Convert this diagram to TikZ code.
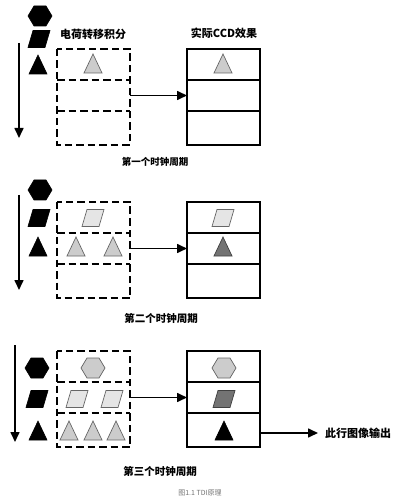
\documentclass[tikz,border=0pt]{standalone}
\usepackage{fontspec}
\setmainfont{Noto Sans CJK SC}
\usetikzlibrary{arrows.meta}
\tikzset{
  hexa/.pic={\path[pic actions] (-12,0) -- (-6,-10) -- (6,-10) -- (12,0) -- (6,10) -- (-6,10) -- cycle;},
  para/.pic={\path[pic actions] (-11,8.5) -- (6,8.5) -- (11,-8.5) -- (-6,-8.5) -- cycle;},
  tri/.pic={\path[pic actions] (-9,9) -- (9,9) -- (0,-10) -- cycle;},
  blk/.style={fill=black,draw=black,line width=0.6pt},
  lgt/.style={fill=black!20,draw=black!60,line width=0.7pt},
  pale/.style={fill=black!10,draw=black!60,line width=0.7pt},
  drk/.style={fill=black!55,draw=black!75,line width=0.7pt},
  dbox/.style={inner sep=0pt,outer sep=0pt,minimum width=73pt,minimum height=31pt},
  dline/.style={line width=2pt,dash pattern=on 7.5pt off 4pt},
  cbox/.style={draw,line width=1.8pt,inner sep=0pt,outer sep=0pt,minimum width=73pt,minimum height=31pt},
  arr/.style={line width=1.6pt,-{Triangle[length=10pt,width=9pt]}},
  lbl/.style={font=\bfseries\fontsize{11}{13}\selectfont,inner sep=0pt},
  clk/.style={font=\bfseries\fontsize{10.5}{12}\selectfont,inner sep=0pt}
}
\begin{document}
\begin{tikzpicture}[x=1pt,y=-1pt]
  \useasboundingbox (0,0) rectangle (400,502);
  % dashed integration stages and ccd rows, three clock periods
  \foreach \p/\t in {1/49,2/202,3/351}{
    \node[dbox] (d\p1) at (93.5,\t+15.5) {};
    \node[dbox] (d\p2) at (93.5,\t+46.5) {};
    \node[dbox,minimum height=34pt] (d\p3) at (93.5,\t+79) {};
    \draw[dline] (d\p1.north west) rectangle (d\p3.south east);
    \draw[dline] (d\p1.south west) -- (d\p1.south east);
    \draw[dline] (d\p2.south west) -- (d\p2.south east);
    \node[cbox] (c\p1) at (223.5,\t+15.5) {};
    \node[cbox] (c\p2) at (223.5,\t+46.5) {};
    \node[cbox,minimum height=34pt] (c\p3) at (223.5,\t+79) {};
    \draw[arr] (d\p2.east) -- (c\p2.west);
  }
  \node[lbl] (tin) at (93,34) {电荷转移积分};
  \node[lbl] (tccd) at (224,33) {实际CCD效果};
  % first period
  \coordinate (v1a) at (19,43); \coordinate (v1b) at (19,138);
  \draw[arr] (v1a) -- (v1b);
  \pic[blk] at (40,16) {hexa};
  \pic[blk] at (39,39) {para};
  \pic[blk] at (38,65) {tri};
  \pic[lgt] at (93,64) {tri};
  \pic[lgt] at (223,64) {tri};
  \node[clk,font=\bfseries\fontsize{9.5}{11}\selectfont] (k1) at (155,162) {第一个时钟周期};
  % second period
  \coordinate (v2a) at (19,195); \coordinate (v2b) at (19,290);
  \draw[arr] (v2a) -- (v2b);
  \pic[blk] at (40,190) {hexa};
  \pic[blk] at (39,218) {para};
  \pic[blk] at (38,247) {tri};
  \pic[pale] at (93,218) {para};
  \pic[lgt] at (76,247) {tri};
  \pic[lgt] at (113,247) {tri};
  \pic[pale] at (223,218) {para};
  \pic[drk] at (223,247) {tri};
  \node[clk] (k2) at (161,318) {第二个时钟周期};
  % third period
  \coordinate (v3a) at (15,345); \coordinate (v3b) at (15,442);
  \draw[arr] (v3a) -- (v3b);
  \pic[blk] at (37,368) {hexa};
  \pic[blk] at (37,399) {para};
  \pic[blk] at (38,431) {tri};
  \pic[lgt] at (93,368) {hexa};
  \pic[pale] at (77,399) {para};
  \pic[pale] at (112,399) {para};
  \pic[lgt] at (69,431) {tri};
  \pic[lgt] at (93,431) {tri};
  \pic[lgt] at (116,431) {tri};
  \pic[lgt] at (224,368) {hexa};
  \pic[drk] at (224,399) {para};
  \pic[blk] at (224,431) {tri};
  \node[lbl,anchor=west] (out) at (325,433) {此行图像输出};
  \draw[arr] (c33.east |- out.west) -- ([xshift=-7pt]out.west);
  \node[clk] (k3) at (160,471) {第三个时钟周期};
  \node[font=\fontsize{7}{8}\selectfont,text=black!55,inner sep=0pt] (cap) at (200,493) {图1.1 TDI原理};
\end{tikzpicture}
\end{document}
